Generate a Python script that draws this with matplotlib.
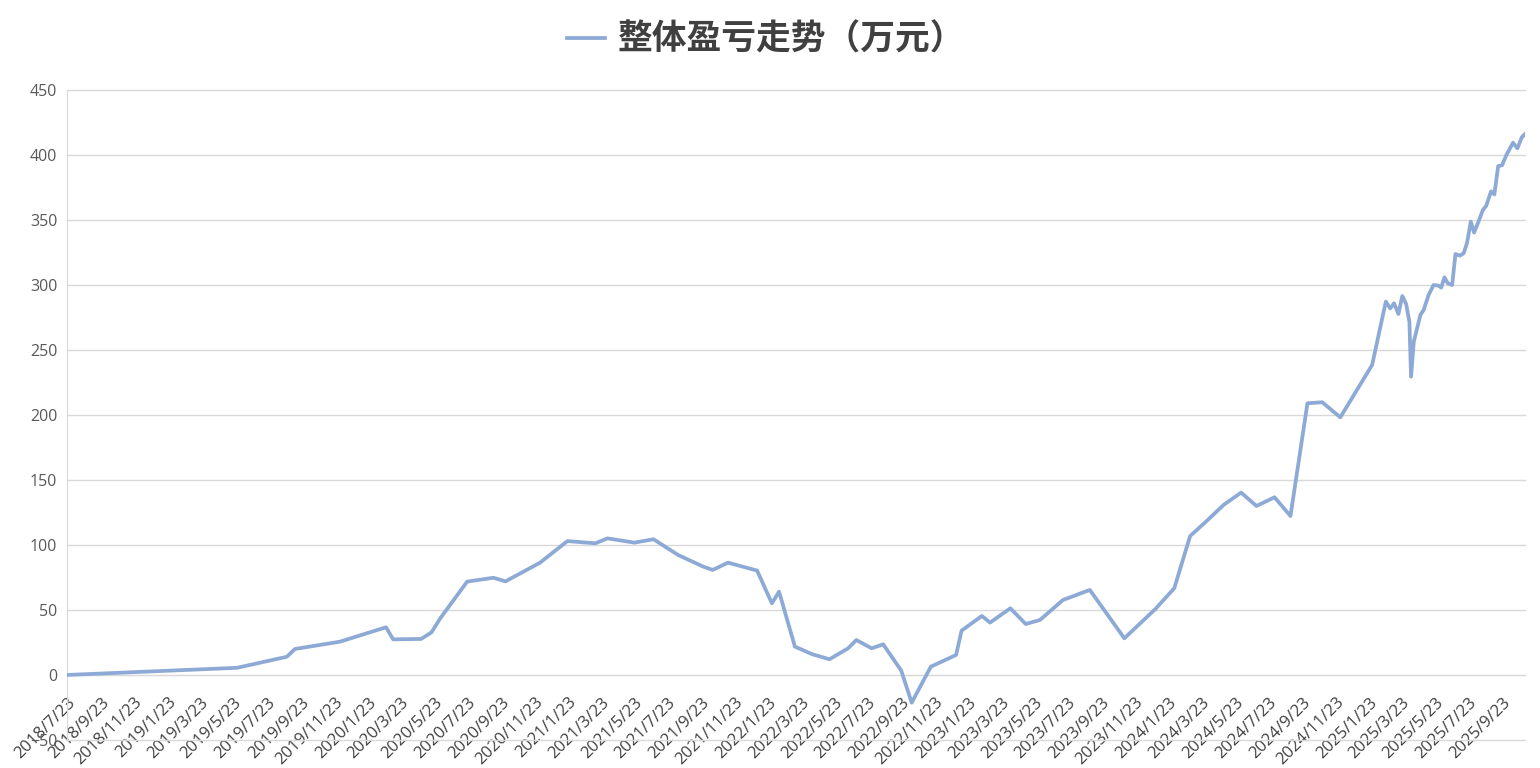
import pandas as pd
import matplotlib
matplotlib.use("Agg")
import matplotlib.pyplot as plt

plt.rcParams['font.family'] = ['Noto Sans CJK SC', 'DejaVu Sans']

series_name = '整体盈亏走势（万元）'

# points (date, cumulative P&L in 万元)
dates = [
    '2018-07-23', '2019-05-29', '2019-08-28', '2019-09-12', '2019-12-03',
    '2020-02-25', '2020-03-09', '2020-04-29', '2020-05-18', '2020-06-03',
    '2020-07-22', '2020-09-08', '2020-09-30', '2020-12-02', '2021-01-21',
    '2021-03-13', '2021-04-04', '2021-05-23', '2021-06-27', '2021-08-11',
    '2021-09-26', '2021-10-13', '2021-11-10', '2022-01-02', '2022-01-29',
    '2022-02-11', '2022-03-12', '2022-04-13', '2022-05-14', '2022-06-17',
    '2022-07-02', '2022-07-30', '2022-08-20', '2022-09-22', '2022-10-11',
    '2022-11-15', '2022-12-31', '2023-01-10', '2023-02-16', '2023-03-03',
    '2023-04-09', '2023-05-07', '2023-06-02', '2023-07-14', '2023-09-01',
    '2023-11-03', '2023-12-29', '2024-02-02', '2024-03-02', '2024-04-03',
    '2024-05-02', '2024-06-03', '2024-07-01', '2024-08-03', '2024-09-01',
    '2024-10-02', '2024-10-29', '2024-12-01', '2025-01-28', '2025-02-22',
    '2025-03-02', '2025-03-09', '2025-03-17', '2025-03-24', '2025-03-31',
    '2025-04-06', '2025-04-09', '2025-04-14', '2025-04-26', '2025-05-02',
    '2025-05-11', '2025-05-20', '2025-05-29', '2025-06-03', '2025-06-09',
    '2025-06-15', '2025-06-23', '2025-06-29', '2025-07-07', '2025-07-14',
    '2025-07-20', '2025-07-27', '2025-08-02', '2025-08-10', '2025-08-18',
    '2025-08-24', '2025-09-02', '2025-09-08', '2025-09-15', '2025-09-22',
    '2025-09-30', '2025-10-12', '2025-10-20', '2025-10-28', '2025-11-03',
]
values = [
    0.0, 5.5, 14.0, 20.0, 25.6,
    36.7, 27.4, 27.7, 32.8, 43.6,
    71.8, 74.8, 72.0, 86.4, 103.0,
    101.3, 105.1, 101.8, 104.4, 92.3,
    83.3, 80.8, 86.4, 80.3, 55.1,
    64.1, 21.8, 15.9, 12.1, 20.5,
    26.9, 20.5, 23.6, 3.3, -21.3,
    6.4, 15.4, 34.1, 45.4, 40.3,
    51.3, 39.2, 42.3, 57.7, 65.4,
    28.2, 50.5, 66.7, 106.9, 119.2,
    130.8, 140.3, 130.0, 136.7, 122.3,
    209.0, 209.8, 198.2, 238.5, 287.2,
    282.0, 285.9, 277.7, 291.5, 285.4,
    271.8, 229.5, 256.4, 276.9, 280.8,
    292.3, 300.0, 299.5, 298.0, 305.9,
    301.3, 300.0, 323.8, 322.6, 324.4,
    332.1, 348.7, 340.3, 348.7, 357.7,
    360.8, 372.0, 369.7, 391.5, 392.1,
    400.0, 409.5, 405.1, 413.6, 416.2,
]

tick_labels = [
    '2018/7/23', '2018/9/23', '2018/11/23',
    '2019/1/23', '2019/3/23', '2019/5/23', '2019/7/23', '2019/9/23', '2019/11/23',
    '2020/1/23', '2020/3/23', '2020/5/23', '2020/7/23', '2020/9/23', '2020/11/23',
    '2021/1/23', '2021/3/23', '2021/5/23', '2021/7/23', '2021/9/23', '2021/11/23',
    '2022/1/23', '2022/3/23', '2022/5/23', '2022/7/23', '2022/9/23', '2022/11/23',
    '2023/1/23', '2023/3/23', '2023/5/23', '2023/7/23', '2023/9/23', '2023/11/23',
    '2024/1/23', '2024/3/23', '2024/5/23', '2024/7/23', '2024/9/23', '2024/11/23',
    '2025/1/23', '2025/3/23', '2025/5/23', '2025/7/23', '2025/9/23',
]
y_ticks = [-50, 0, 50, 100, 150, 200, 250, 300, 350, 400, 450]

line_color = '#8DA9D6'
grid_color = '#D9D9D9'

x = pd.to_datetime(dates)
tick_pos = pd.to_datetime(tick_labels, format='%Y/%m/%d')

fig = plt.figure(figsize=(15.4, 7.68), dpi=100)
ax = fig.add_axes([0.0435, 0.0365, 0.9468, 0.8463])

ax.plot(x, values, color=line_color, lw=2.7, solid_joinstyle='round',
        label=series_name, zorder=3)

ax.set_xlim(x[0], x[-1])
ax.set_ylim(-50, 450)
ax.set_yticks(y_ticks)
ax.grid(axis='y', color=grid_color, lw=1.0)
ax.set_axisbelow(True)
for gl in ax.get_ygridlines():
    gl.set_clip_on(False)

for s in ['top', 'right']:
    ax.spines[s].set_visible(False)
# category axis crosses at zero, like Excel
ax.spines['bottom'].set_position(('data', 0))
ax.spines['bottom'].set_color(grid_color)
ax.spines['left'].set_color(grid_color)

ax.set_xticks(tick_pos)
ax.set_xticklabels(tick_labels, rotation=45, ha='right', rotation_mode='anchor',
                   fontsize=12, color='#404040', family='Open Sans')
ax.tick_params(axis='x', length=0, pad=14)
ax.tick_params(axis='y', length=0, pad=7, labelsize=11.5, labelcolor='#595959')
for lab in ax.get_yticklabels():
    lab.set_family('Open Sans')

leg = fig.legend(loc='center', bbox_to_anchor=(0.4975, 0.949), frameon=False,
                 handlelength=1.1, handletextpad=0.35,
                 prop={'size': 25, 'weight': 'bold'})
for t in leg.get_texts():
    t.set_color('#404040')

fig.savefig('out.png', dpi=100)
